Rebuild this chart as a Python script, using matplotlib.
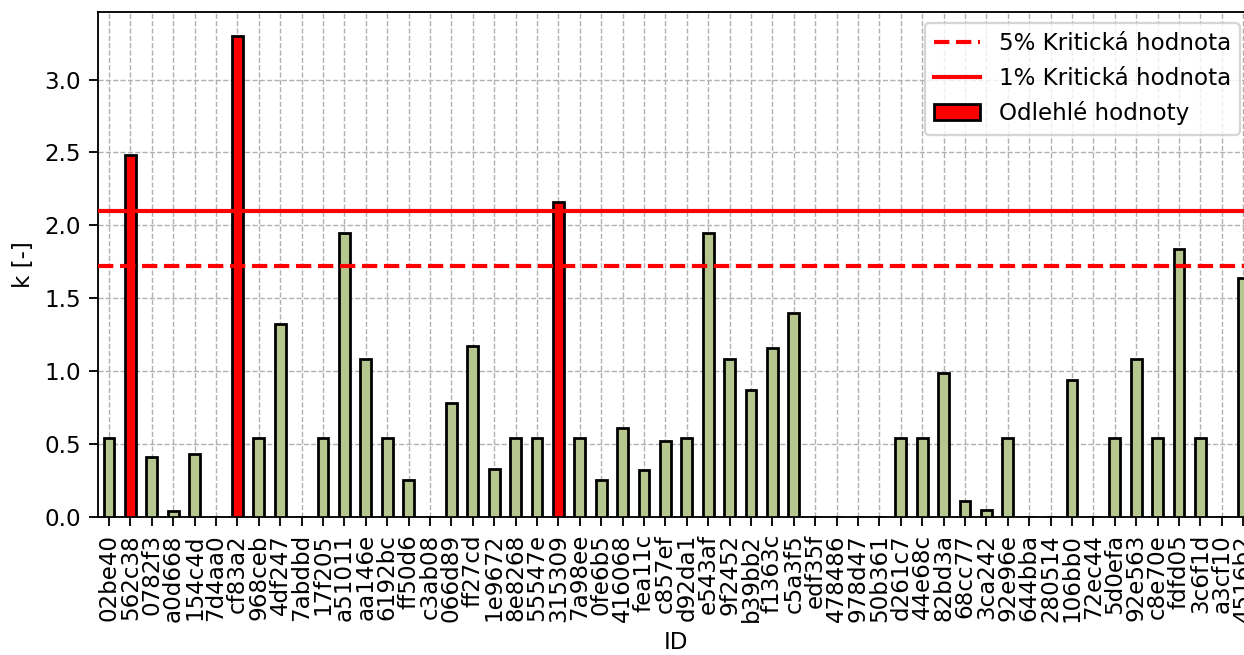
import matplotlib
matplotlib.use('Agg')
import matplotlib.pyplot as plt
from matplotlib.patches import Patch
from matplotlib.lines import Line2D
import numpy as np

ids = ['02be40', '562c38', '0782f3', 'a0d668', '154c4d', '7d4aa0', 'cf83a2', '968ceb',
       '4df247', '7abdbd', '17f205', 'a51011', 'aa146e', '6192bc', 'ff50d6', 'c3ab08',
       '066d89', 'ff27cd', '1e9672', '8e8268', '55547e', '315309', '7a98ee', '0fe6b5',
       '416068', 'fea11c', 'c857ef', 'd92da1', 'e543af', '9f2452', 'b39bb2', 'f1363c',
       'c5a3f5', 'edf35f', '478486', '978d47', '50b361', 'd261c7', '44e68c', '82bd3a',
       '68cc77', '3ca242', '92e96e', '644bba', '280514', '106bb0', '72ec44', '5d0efa',
       '92e563', 'c8e70e', 'fdfd05', '3c6f1d', 'a3cf10', '4516b2']
k = [0.54, 2.48, 0.41, 0.04, 0.43, 0.0, 3.30, 0.54,
     1.32, 0.0, 0.54, 1.95, 1.08, 0.54, 0.25, 0.0,
     0.78, 1.17, 0.33, 0.54, 0.54, 2.16, 0.54, 0.25,
     0.61, 0.32, 0.52, 0.54, 1.95, 1.08, 0.87, 1.16,
     1.40, 0.0, 0.0, 0.0, 0.0, 0.54, 0.54, 0.99,
     0.11, 0.05, 0.54, 0.0, 0.0, 0.94, 0.0, 0.54,
     1.08, 0.54, 1.84, 0.54, 0.0, 1.64]
crit_5 = 1.72
crit_1 = 2.10

k = np.array(k)
outlier = k > crit_1
colors = np.where(outlier, 'red', '#b5c68f')

DPI = 166
plt.rcParams['font.size'] = 10
fig = plt.figure(figsize=(1244 / DPI, 655 / DPI), dpi=DPI)
ax = fig.add_axes([0.079, 0.211, 0.929, 0.771])

x = np.arange(len(ids))
ax.bar(x, k, width=0.5, color=colors, edgecolor='black', linewidth=1.2, zorder=3)
ax.axhline(crit_5, color='red', linestyle='--', linewidth=1.8, zorder=4)
ax.axhline(crit_1, color='red', linestyle='-', linewidth=1.8, zorder=4)

ax.set_xlim(-0.5, len(ids) - 0.5)
ax.set_ylim(0, 3.465)
ax.set_xticks(x)
ax.set_xticklabels(ids, rotation=90)
ax.set_xlabel('ID')
ax.set_ylabel('k [-]')
ax.tick_params(length=4)
ax.grid(True, linestyle='--', color='#b0b0b0', linewidth=0.6, zorder=0)
ax.set_axisbelow(True)

handles = [Line2D([], [], color='red', linestyle='--', linewidth=1.8),
           Line2D([], [], color='red', linestyle='-', linewidth=1.8),
           Patch(facecolor='red', edgecolor='black', linewidth=1.2)]
labels = ['5% Kritická hodnota', '1% Kritická hodnota', 'Odlehlé hodnoty']
ax.legend(handles, labels, loc='upper right',
          bbox_to_anchor=(1240 / 1244, 1 - 23 / 655),
          bbox_transform=fig.transFigure, borderaxespad=0)

fig.savefig('out.png', dpi=DPI)
